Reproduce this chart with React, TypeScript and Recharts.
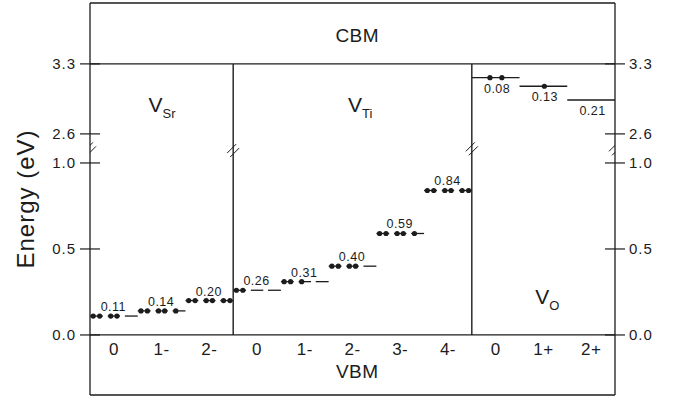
import React from 'react';
import { ComposedChart, XAxis, YAxis, ReferenceLine, Scatter } from 'recharts';

const FONT = '"Liberation Sans", Arial, Helvetica, sans-serif';
const INK = '#1c1c1c';

// broken energy axis: 0..1.0 eV below the break, 2.6 and 3.3 (CBM) above it
const yTickValues = [0, 0.5, 1.0, 1.169, 1.576];
const yTickLabels = ['0.0', '0.5', '1.0', '2.6', '3.3'];
const Y_DOMAIN = [-0.349, 1.93];
const CBM = 1.576; // axis position of the 3.3 eV line
const BREAK_Y = 1.085;

// Sr vacancy: level (eV above VBM) and electrons in the three sub-levels
const srCharges = ['0', '1-', '2-'];
const srLevels = [0.11, 0.14, 0.2];
const srElectrons = [[2, 2, 0], [2, 2, 1], [2, 2, 2]];

// Ti vacancy
const tiCharges = ['0', '1-', '2-', '3-', '4-'];
const tiLevels = [0.26, 0.31, 0.4, 0.59, 0.84];
const tiElectrons = [[2, 0, 0], [2, 1, 0], [2, 2, 0], [2, 2, 1], [2, 2, 2]];

// O vacancy: depth below CBM (eV) and electrons
const oCharges = ['0', '1+', '2+'];
const oDepths = [0.08, 0.13, 0.21];
const oElectrons = [2, 1, 0];

const defectNames = ['Sr', 'Ti', 'O'];

// layout helpers (column units, one column per charge state)
const SUBS = [[0, 0.27], [0.37, 0.63], [0.73, 1.0]];
const defectPos = [
  { x: 1.51, y: 1.297 },
  { x: 5.66, y: 1.297 },
  { x: 9.58, y: 0.18 },
];

const triplets = [
  ...srLevels.map((e, i) => ({ col: i, e, occ: srElectrons[i] })),
  ...tiLevels.map((e, i) => ({ col: 3 + i, e, occ: tiElectrons[i] })),
];

const segments = [
  ...triplets.flatMap((t) => SUBS.map(([a, b]) => ({ x1: t.col + a, x2: t.col + b, y: t.e }))),
  ...oDepths.map((d, i) => ({ x1: 8 + i, x2: 9 + i, y: CBM - d })),
];

const dots: { x: number; y: number }[] = [];
triplets.forEach((t) => {
  SUBS.forEach(([a, b], k) => {
    const w = b - a;
    if (t.occ[k] >= 1) dots.push({ x: t.col + a + 0.25 * w, y: t.e });
    if (t.occ[k] >= 2) dots.push({ x: t.col + a + 0.75 * w, y: t.e });
  });
});
oElectrons.forEach((n, i) => {
  const y = CBM - oDepths[i];
  if (n === 2) {
    dots.push({ x: 8 + i + 0.38, y });
    dots.push({ x: 8 + i + 0.63, y });
  } else if (n === 1) {
    dots.push({ x: 8 + i + 0.52, y });
  }
});

const valueLabels = [
  ...triplets.map((t) => ({ x: t.col + 0.49, y: t.e, text: t.e.toFixed(2), below: false })),
  ...oDepths.map((d, i) => ({ x: 8 + i + 0.53, y: CBM - d, text: d.toFixed(2), below: true })),
];

const chargeLabels = [...srCharges, ...tiCharges, ...oCharges].map((c, i) => ({
  x: i + 0.5,
  y: -0.081,
  text: c,
}));

const bandLabels = [
  { x: 5.6, y: 1.744, text: 'CBM' },
  { x: 5.6, y: -0.209, text: 'VBM' },
];

const breaks = [
  { x: 0, y: BREAK_Y },
  { x: 3, y: BREAK_Y - 0.01 },
  { x: 8, y: BREAK_Y },
  { x: 11, y: BREAK_Y },
];

const defects = defectNames.map((n, i) => ({ ...defectPos[i], name: n }));

const tickText = { fontFamily: FONT, fontSize: 15, letterSpacing: 1, fill: INK };

function LeftTick(props: any) {
  const { x, y, payload } = props;
  const label = yTickLabels[yTickValues.indexOf(payload.value)];
  return (
    <g>
      <line x1={x - 10} x2={x + 10} y1={y} y2={y} stroke={INK} strokeWidth={1.2} />
      <text x={x - 14} y={y} dy={5.5} textAnchor="end" style={tickText}>
        {label}
      </text>
    </g>
  );
}

function RightTick(props: any) {
  const { x, y, payload } = props;
  const label = yTickLabels[yTickValues.indexOf(payload.value)];
  return (
    <g>
      <line x1={x - 10} x2={x + 10} y1={y} y2={y} stroke={INK} strokeWidth={1.2} />
      <text x={x + 14} y={y} dy={5.5} textAnchor="start" style={tickText}>
        {label}
      </text>
    </g>
  );
}

const BreakMark = (p: any) => (
  <g stroke={INK} strokeWidth={1}>
    <line x1={p.cx - 6} y1={p.cy + 3} x2={p.cx + 3} y2={p.cy - 6} />
    <line x1={p.cx - 3} y1={p.cy + 7} x2={p.cx + 6} y2={p.cy - 2} />
  </g>
);

const Dot = (p: any) => <circle cx={p.cx} cy={p.cy} r={2.6} fill={INK} />;

const ValueText = (p: any) => (
  <text
    x={p.cx}
    y={p.payload.below ? p.cy + 15 : p.cy - 5}
    textAnchor="middle"
    style={{ fontFamily: FONT, fontSize: 12.5, letterSpacing: 0.5, fill: INK }}
  >
    {p.payload.text}
  </text>
);

const ChargeText = (p: any) => (
  <text
    x={p.cx}
    y={p.cy}
    dy={6}
    textAnchor="middle"
    style={{ fontFamily: FONT, fontSize: 17, letterSpacing: 0.5, fill: INK }}
  >
    {p.payload.text}
  </text>
);

const BandText = (p: any) => (
  <text
    x={p.cx}
    y={p.cy}
    dy={7}
    textAnchor="middle"
    style={{ fontFamily: FONT, fontSize: 19, letterSpacing: 0.5, fill: INK }}
  >
    {p.payload.text}
  </text>
);

const DefectText = (p: any) => (
  <text x={p.cx} y={p.cy} textAnchor="middle" style={{ fontFamily: FONT, fill: INK }}>
    <tspan fontSize={21}>V</tspan>
    <tspan fontSize={13} dy={6}>
      {p.payload.name}
    </tspan>
  </text>
);

export default function App() {
  return (
    <div style={{ position: 'absolute', left: 0, top: 0, background: '#fff' }}>
      <ComposedChart width={678} height={401} margin={{ top: 3, right: 0, bottom: 6, left: 0 }}>
        <XAxis
          type="number"
          dataKey="x"
          domain={[0, 11]}
          allowDataOverflow
          height={0}
          tick={false}
          tickLine={false}
          axisLine={false}
        />
        <YAxis
          yAxisId={0}
          type="number"
          dataKey="y"
          domain={Y_DOMAIN}
          allowDataOverflow
          ticks={yTickValues}
          interval={0}
          width={90}
          tickSize={0}
          tickMargin={0}
          tickLine={false}
          tick={<LeftTick />}
          axisLine={{ stroke: INK, strokeWidth: 1.3 }}
          label={{
            value: 'Energy (eV)',
            angle: -90,
            position: 'insideLeft',
            offset: 25,
            style: { textAnchor: 'middle', fontFamily: FONT, fontSize: 24, letterSpacing: 1, fill: INK },
          }}
        />
        <YAxis
          yAxisId="r"
          orientation="right"
          type="number"
          dataKey="y"
          domain={Y_DOMAIN}
          allowDataOverflow
          ticks={yTickValues}
          interval={0}
          width={63}
          tickSize={0}
          tickMargin={0}
          tickLine={false}
          tick={<RightTick />}
          axisLine={{ stroke: INK, strokeWidth: 1.3 }}
        />

        {/* frame top and bottom */}
        <ReferenceLine y={Y_DOMAIN[1]} stroke={INK} strokeWidth={1.3} ifOverflow="visible" />
        <ReferenceLine y={Y_DOMAIN[0]} stroke={INK} strokeWidth={1.3} ifOverflow="visible" />

        <ReferenceLine y={CBM} stroke={INK} strokeWidth={1.2} />
        <ReferenceLine y={0} stroke={INK} strokeWidth={1.2} />
        <ReferenceLine segment={[{ x: 3, y: 0 }, { x: 3, y: CBM }]} stroke={INK} strokeWidth={1.4} />
        <ReferenceLine segment={[{ x: 8, y: 0 }, { x: 8, y: CBM }]} stroke={INK} strokeWidth={1.4} />

        {segments.map((s, i) => (
          <ReferenceLine
            key={'seg' + i}
            segment={[{ x: s.x1, y: s.y }, { x: s.x2, y: s.y }]}
            stroke={INK}
            strokeWidth={1.3}
          />
        ))}

        <Scatter data={dots} shape={Dot} isAnimationActive={false} />
        <Scatter data={valueLabels} shape={ValueText} isAnimationActive={false} />
        <Scatter data={chargeLabels} shape={ChargeText} isAnimationActive={false} />
        <Scatter data={bandLabels} shape={BandText} isAnimationActive={false} />
        <Scatter data={defects} shape={DefectText} isAnimationActive={false} />
        <Scatter data={breaks} shape={BreakMark} isAnimationActive={false} />
      </ComposedChart>
    </div>
  );
}
